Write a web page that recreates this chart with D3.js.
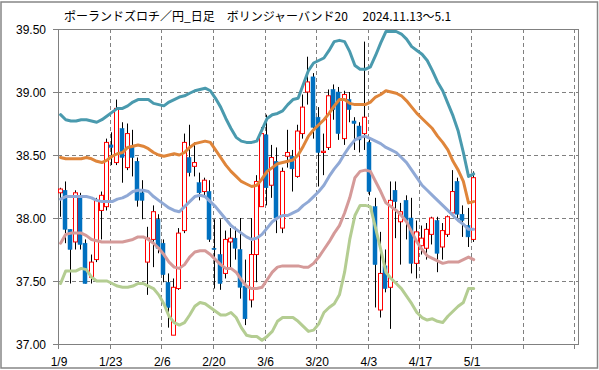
<!DOCTYPE html>
<html>
<head>
<meta charset="utf-8">
<script src="https://cdn.jsdelivr.net/npm/d3@7"></script>
<style>
  body { margin: 0; background: #fff; }
  svg { display: block; }
</style>
</head>
<body>
<div id="main"></div>
<script>
// trading days 2025/1/9 .. 5/1
var dates = ['1/9','1/10','1/13','1/14','1/15','1/16','1/17','1/20','1/21','1/22',
  '1/23','1/24','1/27','1/28','1/29','1/30','1/31','2/3','2/4','2/5',
  '2/6','2/7','2/10','2/11','2/12','2/13','2/14','2/17','2/18','2/19',
  '2/20','2/21','2/24','2/25','2/26','2/27','2/28','3/3','3/4','3/5',
  '3/6','3/7','3/10','3/11','3/12','3/13','3/14','3/17','3/18','3/19',
  '3/20','3/21','3/24','3/25','3/26','3/27','3/28','3/31','4/1','4/2',
  '4/3','4/4','4/7','4/8','4/9','4/10','4/11','4/14','4/15','4/16',
  '4/17','4/18','4/21','4/22','4/23','4/24','4/25','4/28','4/29','4/30',
  '5/1'];
var tickLabels = ['1/9','1/23','2/6','2/20','3/6','3/20','4/3','4/17','5/1','',''];
var yTicks = [37.0, 37.5, 38.0, 38.5, 39.0, 39.5];

var opens = [38.20,38.22,37.91,37.81,38.17,37.80,37.53,37.67,38.06,38.09,
  38.58,38.44,38.71,38.40,38.57,38.45,38.20,37.65,37.83,37.99,
  37.80,37.49,37.07,37.44,37.90,38.48,38.41,38.28,38.21,38.21,
  37.76,37.71,37.56,37.81,37.84,37.75,37.46,37.35,37.71,38.09,
  38.66,38.26,38.45,37.92,38.49,38.49,38.33,38.67,39.00,39.12,
  38.80,38.52,38.56,39.02,39.00,38.63,38.94,38.77,38.73,38.67,
  38.60,38.09,37.27,37.62,37.45,38.22,37.97,38.14,38.00,37.64,
  37.78,37.76,37.87,37.98,37.77,37.87,38.04,38.29,38.03,37.94,
  37.83];
var highs = [38.24,38.29,37.91,38.22,38.20,37.83,37.71,38.16,38.21,38.63,
  38.68,38.94,38.76,38.75,38.70,38.48,38.30,37.93,38.10,38.03,
  37.83,37.56,37.52,37.92,38.67,38.74,38.60,38.36,38.32,38.30,
  37.99,37.99,37.90,37.92,37.93,38.00,37.67,38.00,38.34,38.72,
  38.82,38.58,38.56,38.40,38.70,38.54,38.74,38.98,39.28,39.15,
  38.88,38.67,39.02,39.06,39.04,39.01,39.00,38.80,38.76,39.40,
  38.63,38.16,37.89,37.75,38.29,38.29,38.12,38.18,38.16,37.98,
  37.94,37.96,38.01,38.01,37.96,38.02,38.38,38.32,38.10,38.08,
  38.37];
var lows = [38.01,37.80,37.48,37.75,37.75,37.48,37.48,37.65,37.83,38.06,
  38.42,38.42,38.28,38.38,38.33,38.09,37.99,37.39,37.61,37.72,
  37.49,37.13,37.07,37.43,37.88,38.33,38.33,38.14,38.17,37.81,
  37.44,37.43,37.52,37.61,37.67,37.36,37.15,37.29,37.49,38.09,
  38.10,38.16,37.88,37.88,38.40,38.21,38.32,38.63,38.90,38.63,
  38.25,38.34,38.54,38.78,38.62,38.58,38.76,38.54,38.52,38.54,
  38.18,37.29,37.21,37.41,37.12,37.84,37.63,37.83,37.56,37.52,
  37.71,37.67,37.79,37.57,37.67,37.85,38.02,38.00,37.85,37.77,
  37.81];
var closes = [38.23,37.91,37.75,38.20,37.79,37.48,37.65,38.14,38.18,38.60,
  38.56,38.87,38.48,38.67,38.48,38.14,38.14,37.84,38.05,37.76,
  37.55,37.29,37.45,37.88,38.60,38.36,38.44,38.20,38.30,37.83,
  37.75,37.48,37.83,37.84,37.76,37.45,37.20,37.71,38.29,38.67,
  38.24,38.48,38.00,38.37,38.52,38.39,38.69,38.88,39.08,38.72,
  38.52,38.53,38.97,38.86,38.67,38.98,38.86,38.75,38.62,38.80,
  38.21,37.63,37.56,37.44,38.14,38.13,38.05,37.98,37.64,37.89,
  37.84,37.91,38.00,37.72,37.90,38.01,38.21,38.03,37.98,37.85,
  38.32];

// bollinger band lines (+2σ, +1σ, 20MA, -1σ, -2σ)
var upper2 = [38.82,38.78,38.77,38.77,38.78,38.78,38.77,38.76,38.78,38.81,
  38.84,38.87,38.87,38.89,38.92,38.94,38.94,38.94,38.91,38.90,
  38.89,38.92,38.94,38.96,38.97,38.99,39.01,39.02,39.03,39.01,
  38.95,38.88,38.79,38.71,38.64,38.61,38.60,38.60,38.61,38.70,
  38.79,38.82,38.83,38.85,38.90,38.94,38.95,39.06,39.17,39.23,
  39.25,39.27,39.33,39.40,39.41,39.40,39.32,39.21,39.18,39.18,
  39.20,39.29,39.39,39.48,39.48,39.48,39.46,39.42,39.36,39.33,
  39.30,39.25,39.17,39.08,39.01,38.91,38.81,38.69,38.52,38.33,
  38.35];
var upper1 = [38.48,38.47,38.47,38.47,38.47,38.48,38.47,38.45,38.44,38.46,
  38.49,38.51,38.52,38.56,38.57,38.58,38.57,38.55,38.52,38.50,
  38.49,38.50,38.51,38.50,38.52,38.56,38.59,38.60,38.61,38.60,
  38.54,38.48,38.42,38.37,38.33,38.29,38.27,38.25,38.26,38.31,
  38.37,38.40,38.43,38.44,38.45,38.46,38.50,38.57,38.65,38.70,
  38.74,38.78,38.83,38.89,38.94,38.94,38.91,38.90,38.90,38.90,
  38.92,38.96,38.98,39.01,39.00,38.99,38.97,38.93,38.88,38.83,
  38.79,38.75,38.71,38.65,38.60,38.54,38.45,38.38,38.29,38.12,
  38.13];
var middle = [38.15,38.17,38.17,38.17,38.17,38.17,38.16,38.14,38.13,38.13,
  38.13,38.15,38.16,38.18,38.21,38.22,38.22,38.21,38.17,38.14,
  38.11,38.08,38.06,38.05,38.09,38.13,38.17,38.18,38.17,38.13,
  38.09,38.04,37.99,37.94,37.91,37.88,37.85,37.83,37.84,37.87,
  37.92,37.97,38.00,38.02,38.02,38.04,38.06,38.10,38.13,38.17,
  38.21,38.26,38.33,38.39,38.44,38.51,38.57,38.62,38.64,38.65,
  38.63,38.61,38.59,38.56,38.54,38.52,38.48,38.44,38.38,38.32,
  38.26,38.22,38.18,38.14,38.10,38.06,38.02,37.98,37.95,37.91,
  37.91];
var lower1 = [37.80,37.87,37.88,37.88,37.88,37.86,37.83,37.82,37.81,37.81,
  37.81,37.81,37.81,37.82,37.83,37.85,37.85,37.83,37.80,37.76,
  37.71,37.65,37.61,37.60,37.63,37.69,37.73,37.74,37.74,37.71,
  37.67,37.63,37.60,37.60,37.57,37.51,37.46,37.44,37.44,37.45,
  37.51,37.57,37.61,37.62,37.62,37.62,37.62,37.61,37.61,37.64,
  37.69,37.75,37.81,37.88,37.94,38.04,38.16,38.32,38.37,38.38,
  38.37,38.29,38.21,38.12,38.09,38.06,38.02,37.97,37.89,37.81,
  37.75,37.70,37.68,37.66,37.64,37.65,37.65,37.65,37.67,37.69,
  37.67];
var lower2 = [37.48,37.58,37.58,37.58,37.60,37.59,37.53,37.50,37.50,37.50,
  37.48,37.46,37.45,37.45,37.46,37.48,37.48,37.46,37.44,37.39,
  37.32,37.22,37.17,37.15,37.17,37.23,37.30,37.33,37.32,37.29,
  37.26,37.23,37.23,37.25,37.21,37.13,37.07,37.06,37.06,37.03,
  37.06,37.10,37.18,37.21,37.21,37.21,37.18,37.14,37.10,37.11,
  37.16,37.25,37.29,37.32,37.39,37.57,37.83,38.02,38.10,38.10,
  38.09,37.92,37.75,37.57,37.52,37.48,37.44,37.38,37.32,37.25,
  37.21,37.19,37.20,37.18,37.17,37.22,37.26,37.30,37.33,37.44,
  37.44];

var width = 599, height = 370;
var plotLeft = 58, plotRight = 578, plotTop = 29, plotBottom = 344;

var svg = d3.select('#main')
  .append('svg')
  .attr('width', width)
  .attr('height', height);

// outer frame
svg.append('rect')
  .attr('x', 1).attr('y', 2)
  .attr('width', 596.5).attr('height', 366)
  .attr('fill', '#fff')
  .attr('stroke', '#868686')
  .attr('stroke-width', 1.5);

svg.append('text')
  .attr('x', 64).attr('y', 21)
  .attr('font-family', '"Noto Sans CJK JP", sans-serif')
  .attr('font-size', 12)
  .attr('fill', '#000')
  .text('ポーランドズロチ／円_日足　ボリンジャーバンド20　 2024.11.13～5.1');

// 101 category slots, gridline every 10 trading days
var x = d3.scaleLinear().domain([0, 100.7]).range([plotLeft, plotRight]);
var y = d3.scaleLinear().domain([37, 39.5]).range([plotBottom, plotTop]);

var grid = svg.append('g').attr('stroke', '#808080').attr('stroke-width', 1);

grid.selectAll('.hgrid')
  .data(yTicks.filter(function(d) { return d > 37 && d < 39.5; }))
  .enter()
  .append('line')
  .attr('x1', plotLeft).attr('x2', plotRight)
  .attr('y1', function(d) { return Math.round(y(d)) + 0.5; })
  .attr('y2', function(d) { return Math.round(y(d)) + 0.5; })
  .attr('stroke-dasharray', '4,3');

grid.selectAll('.vgrid')
  .data(d3.range(1, tickLabels.length))
  .enter()
  .append('line')
  .attr('x1', function(k) { return Math.round(x(k * 10)) + 0.5; })
  .attr('x2', function(k) { return Math.round(x(k * 10)) + 0.5; })
  .attr('y1', plotTop).attr('y2', plotBottom)
  .attr('stroke-dasharray', '4,3');

// tick marks
grid.selectAll('.xtick')
  .data(d3.range(0, tickLabels.length))
  .enter()
  .append('line')
  .attr('x1', function(k) { return Math.round(x(k * 10)) + 0.5; })
  .attr('x2', function(k) { return Math.round(x(k * 10)) + 0.5; })
  .attr('y1', plotBottom).attr('y2', plotBottom + 5);

grid.selectAll('.ytick')
  .data(yTicks)
  .enter()
  .append('line')
  .attr('x1', plotLeft - 5).attr('x2', plotLeft)
  .attr('y1', function(d) { return Math.round(y(d)) + 0.5; })
  .attr('y2', function(d) { return Math.round(y(d)) + 0.5; });

svg.append('rect')
  .attr('x', plotLeft + 0.5).attr('y', plotTop + 0.5)
  .attr('width', plotRight - plotLeft).attr('height', plotBottom - plotTop)
  .attr('fill', 'none')
  .attr('stroke', '#808080');

svg.selectAll('.xlabel')
  .data(tickLabels)
  .enter()
  .append('text')
  .attr('x', function(d, k) { return x(k * 10) + 1; })
  .attr('y', 366)
  .attr('text-anchor', 'middle')
  .attr('font-family', '"Liberation Sans", Arial, sans-serif')
  .attr('font-size', 12)
  .text(function(d) { return d; });

svg.selectAll('.ylabel')
  .data(yTicks)
  .enter()
  .append('text')
  .attr('x', 46)
  .attr('y', function(d) { return y(d) + 4.5; })
  .attr('text-anchor', 'end')
  .attr('font-family', '"Liberation Sans", Arial, sans-serif')
  .attr('font-size', 12)
  .text(function(d) { return d.toFixed(2); });

// candles
var candles = dates.map(function(d, i) {
  return { date: d, i: i, o: opens[i], h: highs[i], l: lows[i], c: closes[i] };
});

var cg = svg.append('g');
cg.selectAll('.wick')
  .data(candles)
  .enter()
  .append('line')
  .attr('x1', function(d) { return Math.round(x(d.i + 0.5)) - 0.5; })
  .attr('x2', function(d) { return Math.round(x(d.i + 0.5)) - 0.5; })
  .attr('y1', function(d) { return y(d.h); })
  .attr('y2', function(d) { return y(d.l); })
  .attr('stroke', '#000')
  .attr('stroke-width', 1);

cg.selectAll('.body')
  .data(candles)
  .enter()
  .append('rect')
  .attr('x', function(d) {
    var c = Math.round(x(d.i + 0.5));
    return d.c >= d.o ? c - 2.5 : c - 3;
  })
  .attr('y', function(d) { return y(Math.max(d.o, d.c)); })
  .attr('width', 4)
  .attr('height', function(d) { return Math.max(1, Math.abs(y(d.o) - y(d.c))); })
  .attr('fill', function(d) { return d.c >= d.o ? '#fff' : '#0070c0'; })
  .attr('stroke', function(d) { return d.c >= d.o ? '#ff0000' : '#0070c0'; })
  .attr('stroke-width', function(d) { return d.c >= d.o ? 1 : 0.5; });

// band lines
var bands = [
  { values: lower2, color: '#b4cd92' },
  { values: lower1, color: '#d59a99' },
  { values: middle, color: '#90a9d6' },
  { values: upper1, color: '#df853a' },
  { values: upper2, color: '#4a9aae' }
];

var line = d3.line()
  .x(function(d, i) { return x(i + 0.5); })
  .y(function(d) { return y(d); });

svg.selectAll('.band')
  .data(bands)
  .enter()
  .append('path')
  .attr('d', function(b) { return line(b.values); })
  .attr('fill', 'none')
  .attr('stroke', function(b) { return b.color; })
  .attr('stroke-width', 3)
  .attr('stroke-linejoin', 'round')
  .attr('stroke-linecap', 'round');
</script>
</body>
</html>
